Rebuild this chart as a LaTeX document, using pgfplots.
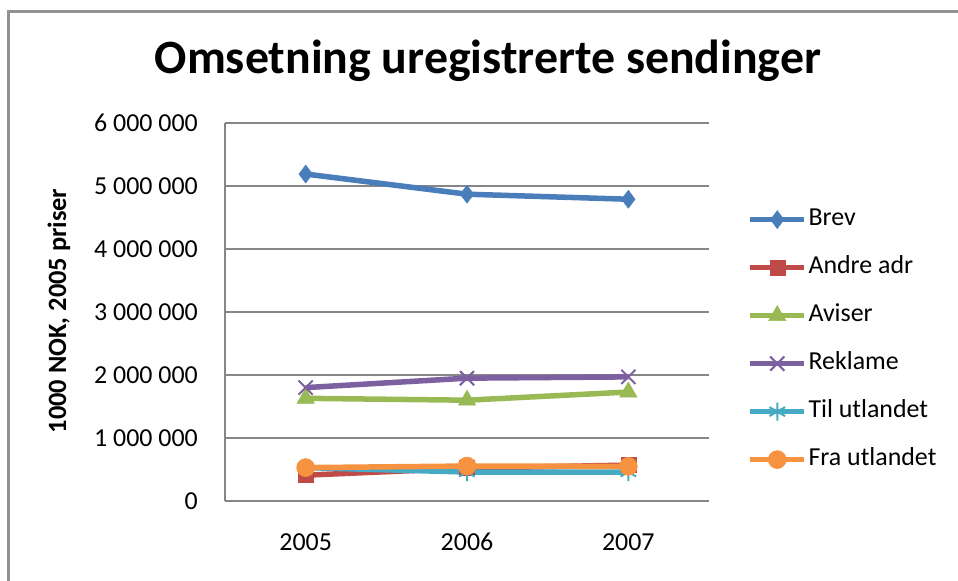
\documentclass[border=0pt]{standalone}
\usepackage{pgfplots}
\pgfplotsset{compat=1.18}
\usepackage{fontspec}
\setmainfont{Carlito}
\definecolor{cBrev}{HTML}{4A7EBB}
\definecolor{cAndre}{HTML}{BE4B48}
\definecolor{cAviser}{HTML}{98B954}
\definecolor{cReklame}{HTML}{7D60A0}
\definecolor{cTil}{HTML}{46AAC5}
\definecolor{cFra}{HTML}{F69240}
\definecolor{cGrid}{HTML}{868686}
\begin{document}
\begin{tikzpicture}
\useasboundingbox (0,0) rectangle (958bp,-581bp);
\draw[color=cGrid!90, line width=3bp] (8bp,-581bp) -- (8bp,-11bp) -- (958bp,-11bp);
\node[font=\fontsize{48}{54}\selectfont\bfseries] at (488bp,-61bp) {Omsetning uregistrerte sendinger};
\node[font=\fontsize{26.5}{30}\selectfont\bfseries, rotate=90] at (59bp,-311bp) {1000 NOK, 2005 priser};
\begin{axis}[
  at={(225bp,-501bp)}, anchor=south west,
  scale only axis, width=484bp, height=378bp,
  xmin=-0.5, xmax=2.5, ymin=0, ymax=6000000,
  xtick={0,1,2}, xticklabels={2005,2006,2007},
  ytick={0,1000000,2000000,3000000,4000000,5000000,6000000},
  yticklabels={0,1 000 000,2 000 000,3 000 000,4 000 000,5 000 000,6 000 000},
  scaled y ticks=false,
  major tick length=0pt,
  axis x line*=bottom, axis y line*=left,
  axis line style={color=cGrid, line width=2bp, -},
  ymajorgrids, grid style={color=cGrid, line width=1.8bp},
  tick label style={font=\fontsize{26}{30}\selectfont},
  yticklabel style={inner sep=0pt, xshift=-27bp},
  xticklabel style={inner sep=0pt, yshift=-32bp},
  clip=false,
  every axis plot/.append style={line width=5.5bp},
  legend style={draw=none, fill=none, at={(1.074,0.427)}, anchor=west,
    font=\fontsize{26}{30}\selectfont, row sep=20bp,
    nodes={inner sep=2bp, text height=18bp, text depth=6bp}},
  legend cell align=left,
  legend image code/.code={\draw[mark repeat=2,mark phase=2, line width=4.5bp] plot coordinates {(0bp,0bp)(27bp,0bp)(54bp,0bp)};},
]
\addplot[color=cBrev, mark=diamond*, mark size=9bp, mark options={line width=0.5bp}] coordinates {(0,5190000) (1,4870000) (2,4790000)};
\addlegendentry{Brev}
\addplot[color=cAndre, mark=square*, mark size=7.5bp, mark options={line width=0.5bp}] coordinates {(0,410000) (1,520000) (2,570000)};
\addlegendentry{Andre adr}
\addplot[color=cAviser, mark=triangle*, mark size=10bp, mark options={line width=0.5bp}] coordinates {(0,1630000) (1,1600000) (2,1730000)};
\addlegendentry{Aviser}
\addplot[color=cReklame, mark=x, mark size=10bp, mark options={line width=2bp}] coordinates {(0,1800000) (1,1950000) (2,1970000)};
\addlegendentry{Reklame}
\addplot[color=cTil, mark=asterisk, mark size=9bp, mark options={line width=2bp}] coordinates {(0,530000) (1,460000) (2,460000)};
\addlegendentry{Til utlandet}
\addplot[color=cFra, mark=*, mark size=9bp, mark options={line width=0.5bp}] coordinates {(0,530000) (1,555000) (2,550000)};
\addlegendentry{Fra utlandet}
\end{axis}
\end{tikzpicture}
\end{document}
